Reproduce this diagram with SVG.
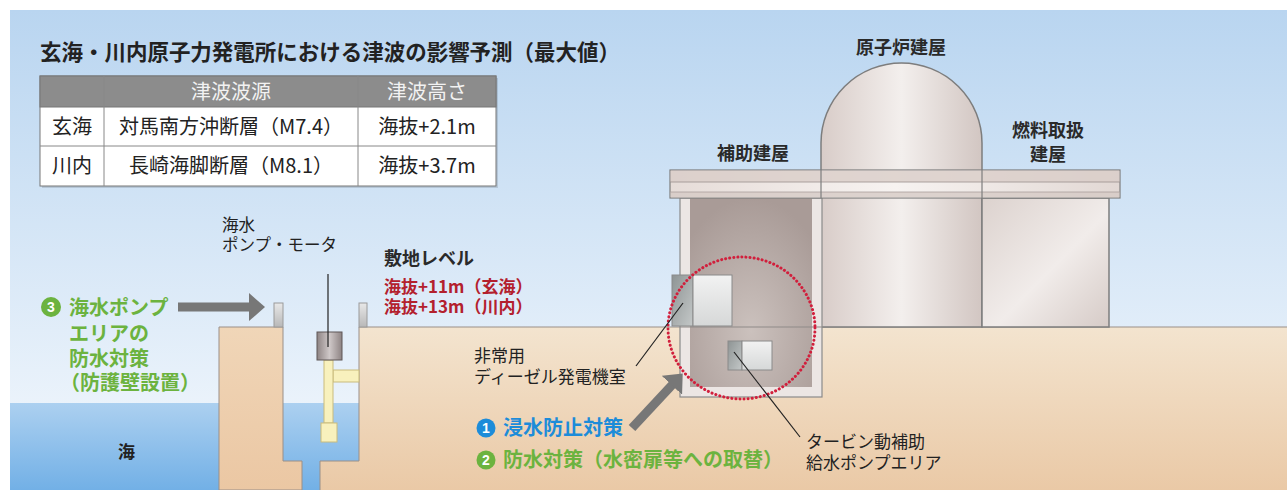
<svg xmlns="http://www.w3.org/2000/svg" width="1287" height="490" viewBox="0 0 1287 490">
  <defs>
    <linearGradient id="sky" x1="0" y1="0" x2="0" y2="1">
      <stop offset="0" stop-color="#b9d5f0"/>
      <stop offset="0.75" stop-color="#e6f0fa"/>
      <stop offset="1" stop-color="#f6f9fd"/>
    </linearGradient>
    <linearGradient id="sea" x1="0" y1="0" x2="0" y2="1">
      <stop offset="0" stop-color="#acd0f0"/>
      <stop offset="1" stop-color="#72b0e6"/>
    </linearGradient>
    <linearGradient id="ground" x1="0" y1="0" x2="0" y2="1">
      <stop offset="0" stop-color="#f3e4cf"/>
      <stop offset="1" stop-color="#eac9a6"/>
    </linearGradient>
    <linearGradient id="wall" x1="0" y1="0" x2="0" y2="1">
      <stop offset="0" stop-color="#f0d6b8"/>
      <stop offset="1" stop-color="#ebc7a3"/>
    </linearGradient>
    <linearGradient id="concrete" x1="0" y1="0" x2="1" y2="0">
      <stop offset="0" stop-color="#d8ccc8"/>
      <stop offset="0.5" stop-color="#f3efed"/>
      <stop offset="1" stop-color="#d2c6c2"/>
    </linearGradient>
    <linearGradient id="fuelwall" x1="0" y1="0" x2="1" y2="1">
      <stop offset="0" stop-color="#dcd2ce"/>
      <stop offset="0.55" stop-color="#f1ecea"/>
      <stop offset="1" stop-color="#d6cbc7"/>
    </linearGradient>
    <linearGradient id="slab" x1="0" y1="0" x2="1" y2="0">
      <stop offset="0" stop-color="#e6dcd8"/>
      <stop offset="0.5" stop-color="#f7f3f1"/>
      <stop offset="1" stop-color="#e2d8d4"/>
    </linearGradient>
    <radialGradient id="interior" cx="0.5" cy="0.7" r="0.7">
      <stop offset="0" stop-color="#cbc1bd"/>
      <stop offset="1" stop-color="#a99b97"/>
    </radialGradient>
    <linearGradient id="darkbox" x1="0" y1="0" x2="1" y2="1">
      <stop offset="0" stop-color="#8e9494"/>
      <stop offset="1" stop-color="#c4c8c8"/>
    </linearGradient>
    <linearGradient id="lightbox" x1="0" y1="0" x2="0" y2="1">
      <stop offset="0" stop-color="#f2f2f2"/>
      <stop offset="1" stop-color="#d6d8d8"/>
    </linearGradient>
    <linearGradient id="post" x1="0" y1="0" x2="0" y2="1">
      <stop offset="0" stop-color="#e8e8e8"/>
      <stop offset="1" stop-color="#b8b8b8"/>
    </linearGradient>
    <linearGradient id="motor" x1="0" y1="0" x2="1" y2="0">
      <stop offset="0" stop-color="#8d8383"/>
      <stop offset="0.5" stop-color="#cfc8c8"/>
      <stop offset="1" stop-color="#8d8383"/>
    </linearGradient>
    <marker id="fat" viewBox="0 0 16 28" refX="1" refY="14" markerWidth="16" markerHeight="28" markerUnits="userSpaceOnUse" orient="auto">
      <path d="M0,0 L16,14 L0,28 Z" fill="#777777"/>
    </marker>
    <style>
      text { font-family: "Noto Sans CJK JP", "Noto Sans", sans-serif; fill: #222; }
      .b { font-weight: 700; }
      .lbl { font-size: 17px; }
      .bld { font-size: 18px; font-weight: 700; fill: #2a2a2a; }
      .red { font-size: 17px; font-weight: 700; fill: #b3202d; }
      .grn { font-size: 20px; font-weight: 700; fill: #6cb33f; }
      .blu { font-size: 20px; font-weight: 700; fill: #1d8cd9; }
      .num { font-size: 14px; font-weight: 700; fill: #ffffff; text-anchor: middle; font-family: "Liberation Sans", sans-serif; }
      .cell { font-size: 20px; text-anchor: middle; }
      .head { font-size: 20px; text-anchor: middle; fill: #f2f2f2; }
      .edge { stroke: #9a8f88; stroke-width: 1; }
      .leader { stroke: #222; stroke-width: 1.2; fill: none; }
      .fatarrow { stroke: #777777; stroke-width: 9; fill: none; marker-end: url(#fat); }
    </style>
  </defs>

  <!-- backdrop: sky, sea -->
  <rect x="0" y="0" width="1287" height="490" fill="#ffffff"/>
  <rect x="10" y="10" width="1277" height="480" fill="url(#sky)"/>
  <rect x="10" y="403" width="400" height="87" fill="url(#sea)"/>

  <!-- heading and table -->
  <g id="title">
    <text x="40" y="60" class="b" font-size="22" textLength="580" lengthAdjust="spacingAndGlyphs">玄海・川内原子力発電所における津波の影響予測（最大値）</text>
  </g>
  <g id="table">
    <rect x="42" y="78" width="456" height="110" fill="#000" opacity="0.12"/>
    <rect x="40" y="76" width="456" height="110" fill="#ffffff" stroke="#777" stroke-width="1"/>
    <rect x="40" y="76" width="456" height="31" fill="#8c8c8c" stroke="#777" stroke-width="1"/>
    <line x1="40" y1="146" x2="496" y2="146" stroke="#888" stroke-width="1"/>
    <line x1="104" y1="76" x2="104" y2="186" stroke="#888" stroke-width="1"/>
    <line x1="358" y1="76" x2="358" y2="186" stroke="#888" stroke-width="1"/>
    <text x="231" y="99" class="head">津波波源</text>
    <text x="427" y="99" class="head">津波高さ</text>
    <text x="72" y="134" class="cell">玄海</text>
    <text x="231" y="134" class="cell">対馬南方沖断層（M7.4）</text>
    <text x="427" y="134" class="cell">海抜+2.1m</text>
    <text x="72" y="173" class="cell">川内</text>
    <text x="231" y="173" class="cell">長崎海脚断層（M8.1）</text>
    <text x="427" y="173" class="cell">海抜+3.7m</text>
  </g>

  <!-- ground and sea wall -->
  <g id="ground">
    <path d="M359,327 L1287,327 L1287,490 L320,490 L320,461 L359,461 Z" fill="url(#ground)"/>
    <path d="M359,461 L359,327 L1287,327" class="edge" fill="none"/>
    <path d="M320,490 L320,461 L359,461" class="edge" fill="none"/>
  </g>
  <g id="seawall">
    <path d="M219,327 L283,327 L283,461 L302,461 L302,490 L219,490 Z" fill="url(#wall)" class="edge"/>
    <rect x="274" y="303" width="9" height="24" fill="url(#post)" stroke="#9a9a9a"/>
    <rect x="359" y="303" width="8" height="24" fill="url(#post)" stroke="#9a9a9a"/>
  </g>

  <!-- sea water pump -->
  <g id="pump">
    <rect x="333" y="370" width="26" height="12" fill="#f8f1bd" stroke="#c9bb7c"/>
    <rect x="324" y="360" width="9" height="63" fill="#f8f1bd" stroke="#c9bb7c"/>
    <rect x="321" y="423" width="16" height="19" fill="#f8f1bd" stroke="#c9bb7c"/>
    <rect x="317" y="332" width="25" height="28" fill="url(#motor)" stroke="#5f5757"/>
  </g>

  <!-- reactor containment dome -->
  <g id="reactor">
    <path d="M821,327 L821,143 A80.5,80 0 0 1 982,143 L982,327 Z" fill="url(#concrete)" stroke="#7d7d7d" stroke-width="1.5"/>
  </g>

  <!-- fuel handling building -->
  <g id="fuel">
    <rect x="982" y="198" width="127" height="129" fill="url(#fuelwall)" stroke="#7d7d7d" stroke-width="1.5"/>
  </g>

  <!-- auxiliary building (cut-away) -->
  <g id="aux">
    <rect x="680" y="198" width="142" height="199" fill="#ece6e4" stroke="#8a8a8a" stroke-width="1.2"/>
    <rect x="690" y="198" width="122" height="189" fill="url(#interior)"/>
    <line x1="680" y1="327" x2="822" y2="327" stroke="#8f8a88" stroke-width="1"/>
  </g>

  <!-- shared roof slab -->
  <g id="roof">
    <rect x="670" y="170" width="450" height="28" fill="url(#slab)" stroke="#7d7d7d" stroke-width="1.2"/>
    <rect x="670.6" y="170.6" width="448.8" height="11.4" fill="#d9cdc8" opacity="0.8"/>
    <rect x="670.6" y="192" width="448.8" height="5.4" fill="#d6cbc6" opacity="0.8"/>
    <line x1="670" y1="182" x2="1120" y2="182" stroke="#9b918d" stroke-width="0.8"/>
    <line x1="670" y1="192" x2="1120" y2="192" stroke="#a9a09c" stroke-width="0.8"/>
    <line x1="821" y1="170" x2="821" y2="198" stroke="#7d7d7d" stroke-width="1.2"/>
    <line x1="982" y1="170" x2="982" y2="198" stroke="#7d7d7d" stroke-width="1.2"/>
  </g>

  <!-- emergency diesel generator room -->
  <g id="diesel">
    <rect x="672" y="275" width="21" height="51" fill="url(#darkbox)" stroke="#8a8a8a"/>
    <rect x="693" y="275" width="39" height="51" fill="url(#lightbox)" stroke="#8a8a8a"/>
  </g>

  <!-- turbine-driven auxiliary feedwater pump area -->
  <g id="turbine">
    <rect x="728" y="341" width="14" height="29" fill="url(#darkbox)" stroke="#8a8a8a"/>
    <rect x="742" y="341" width="30" height="29" fill="url(#lightbox)" stroke="#8a8a8a"/>
  </g>

  <!-- protected zone -->
  <g id="zone">
    <ellipse cx="741.5" cy="328" rx="73.5" ry="71" fill="none" stroke="#d11f3c" stroke-width="3" stroke-dasharray="0.1 4" stroke-linecap="round"/>
  </g>

  <!-- connectors: leaders and arrows -->
  <g id="connectors">
    <line class="leader" x1="328" y1="274" x2="328" y2="347"/>
    <line class="leader" x1="636" y1="366" x2="683" y2="303"/>
    <line class="leader" x1="734" y1="352" x2="800" y2="437"/>
    <line class="fatarrow" x1="178" y1="307" x2="250" y2="307"/>
    <line class="fatarrow" x1="632" y1="428" x2="672.5" y2="384.5"/>
  </g>

  <!-- labels -->
  <g id="building-labels">
    <text x="901" y="54" class="bld" text-anchor="middle">原子炉建屋</text>
    <text x="753" y="160" class="bld" text-anchor="middle">補助建屋</text>
    <text class="bld" text-anchor="middle"><tspan x="1048" y="137">燃料取扱</tspan><tspan x="1048" y="161">建屋</tspan></text>
  </g>
  <g id="pump-label">
    <text font-size="16.5"><tspan x="222" y="231">海水</tspan><tspan x="222" y="251">ポンプ・モータ</tspan></text>
  </g>
  <g id="site-level">
    <text x="384" y="265" class="bld">敷地レベル</text>
    <text class="red"><tspan x="384" y="293">海抜+11m（玄海）</tspan><tspan x="384" y="313">海抜+13m（川内）</tspan></text>
  </g>
  <g id="measure-3">
    <circle cx="51" cy="307" r="10" fill="#6cb33f"/>
    <text x="51" y="312" class="num">3</text>
    <text class="grn"><tspan x="69" y="315">海水ポンプ</tspan><tspan x="69" y="341">エリアの</tspan><tspan x="69" y="366">防水対策</tspan><tspan x="60" y="390">（防護壁設置）</tspan></text>
  </g>
  <g id="sea-label">
    <text x="118" y="458" class="b" font-size="17">海</text>
  </g>
  <g id="diesel-label">
    <text class="lbl"><tspan x="474" y="362">非常用</tspan><tspan x="474" y="383">ディーゼル発電機室</tspan></text>
  </g>
  <g id="measure-1">
    <circle cx="486" cy="428" r="9.5" fill="#1d8cd9"/>
    <text x="486" y="433" class="num">1</text>
    <text x="503" y="435" class="blu">浸水防止対策</text>
  </g>
  <g id="measure-2">
    <circle cx="486" cy="460" r="9.5" fill="#6cb33f"/>
    <text x="486" y="465" class="num">2</text>
    <text x="503" y="467" class="grn">防水対策（水密扉等への取替）</text>
  </g>
  <g id="turbine-label">
    <text class="lbl"><tspan x="806" y="448">タービン動補助</tspan><tspan x="806" y="469">給水ポンプエリア</tspan></text>
  </g>
</svg>
